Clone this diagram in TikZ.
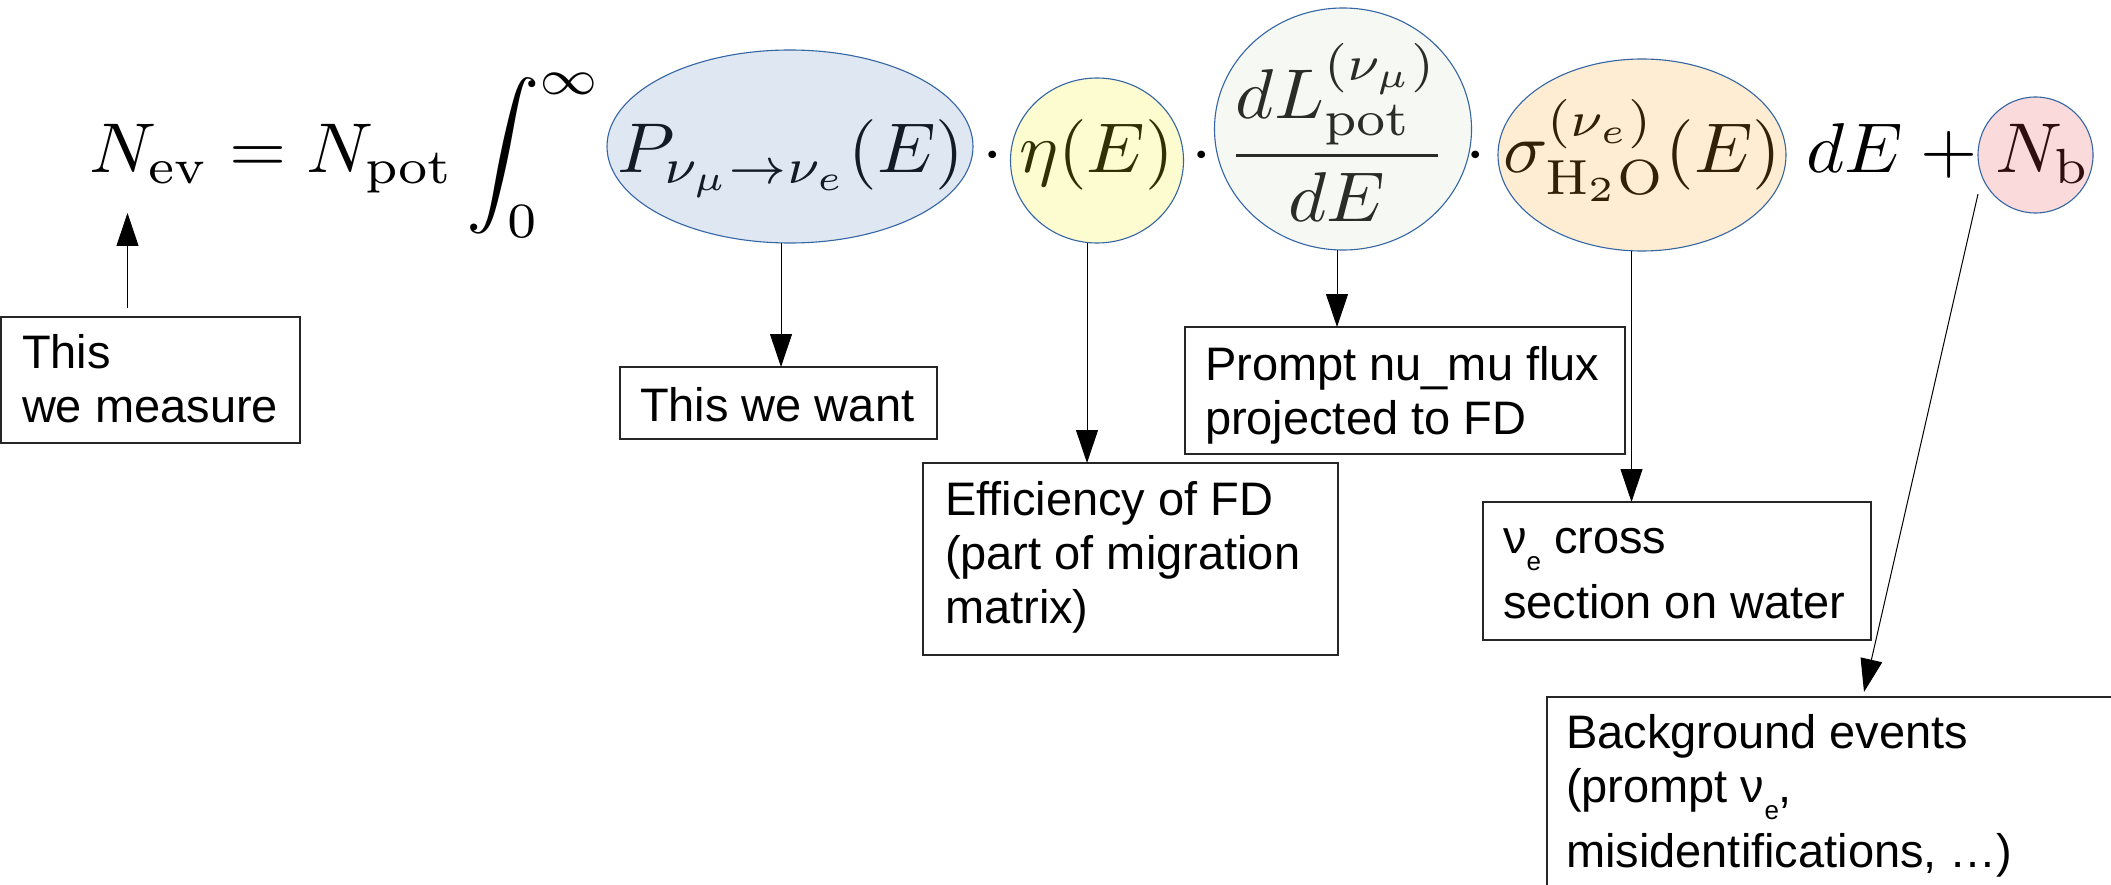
\documentclass[tikz,border=0pt]{standalone}
\usepackage{graphicx}
\usepackage{fontspec}
\newfontfamily\lsans{Liberation Sans}
\usetikzlibrary{shapes.geometric,arrows.meta}
\definecolor{ellborder}{RGB}{52,101,164}
\definecolor{cblue}{RGB}{90,135,190}
\definecolor{cyellow}{RGB}{245,235,20}
\definecolor{cgreen}{RGB}{210,225,195}
\definecolor{corange}{RGB}{250,165,30}
\definecolor{cpink}{RGB}{230,70,70}
\newcommand{\eqbox}[1]{\scalebox{7.35}[7.05]{#1}}
\newcommand{\subE}{\raisebox{-17pt}{\fontsize{26}{26}\selectfont e}}
\begin{document}
\begin{tikzpicture}[x=1pt,y=-1pt,
  eqn/.style={anchor=base west, inner sep=0pt, outer sep=0pt},
  eqc/.style={anchor=base, inner sep=0pt, outer sep=0pt},
  ell/.style={ellipse, draw=ellborder, line width=1.1pt, fill opacity=0.2, inner sep=0pt, outer sep=0pt},
  box/.style={rectangle, draw=black!85, line width=1.2pt, inner sep=0pt, outer sep=0pt, anchor=north west},
  lbl/.style={anchor=base west, inner sep=0pt, outer sep=0pt, font=\lsans\fontsize{47}{54}\selectfont},
  arr/.style={line width=1pt, -{Triangle[length=33pt,width=22pt]}},
]
\useasboundingbox (0,0) rectangle (2111,885);
\clip (0,0) rectangle (2111,885);
\fill[white] (0,0) rectangle (2111,885);

% boxes
\node[box, minimum width=299pt, minimum height=126pt] (meas) at (1,317) {};
\node[box, minimum width=317pt, minimum height=72pt] (want) at (620,367) {};
\node[box, minimum width=415pt, minimum height=192pt] (eff) at (923,463) {};
\node[box, minimum width=440pt, minimum height=127pt] (prompt) at (1185,327) {};
\node[box, minimum width=388pt, minimum height=138pt] (nue) at (1483,502) {};
\node[box, minimum width=700pt, minimum height=300pt] (bg) at (1547,697) {};

% box texts
\node[lbl] (tmeas) at (22,368) {\vtop{\hbox{This}\hbox{we measure}}};
\node[lbl] (twant) at (640,421) {This we want};
\node[lbl] (teff) at (945,515) {\vtop{\hbox{Efficiency of FD}\hbox{(part of migration}\hbox{matrix)}}};
\node[lbl] (tprompt) at (1205,380) {\vtop{\hbox{Prompt nu\_mu flux}\hbox{projected to FD}}};
\node[lbl] (tnue) at (1503,553) {\vtop{\hbox{ν\subE\ cross}\vskip 11pt\hbox{section on water}}};
\node[lbl] (tbg) at (1566,748) {\vtop{\hbox{Background events}\hbox{(prompt ν\subE,}\vskip 11pt\hbox{misidentifications, …)}}};

% equation pieces
\node[eqn] (eqL) at (89,173) {\eqbox{$\displaystyle N_{\mathrm{ev}} = N_{\mathrm{pot}}\int_0^\infty$}};
\node[eqn] (eqP) at (617,173) {\eqbox{$P_{\nu_\mu\to\nu_e}(E)$}};
\node[eqc] (d1) at (993,173) {\eqbox{$\cdot$}};
\node[eqn] (eqEta) at (1019,173) {\eqbox{$\eta(E)$}};
\node[eqc] (d2) at (1202,173) {\eqbox{$\cdot$}};
\node[eqn] (eqF) at (1227,173) {\eqbox{$\displaystyle\frac{dL^{(\nu_\mu)}_{\mathrm{pot}}}{dE}$}};
\node[eqc] (d3) at (1476,173) {\eqbox{$\cdot$}};
\node[eqn] (eqS) at (1503,173) {\eqbox{$\sigma^{(\nu_e)}_{\mathrm{H_2O}}(E)$}};
\node[eqn] (eqD) at (1806,173) {\eqbox{$dE$}};
\node[eqc] (plus) at (1949.5,173) {\eqbox{$+$}};
\node[eqn] (eqN) at (1995,173) {\eqbox{$N_{\mathrm{b}}$}};

% tinted ellipses
\node[ell, fill=cblue, minimum width=366pt, minimum height=193pt] (Pell) at (790,146.5) {};
\node[ell, fill=cyellow, minimum width=173pt, minimum height=165pt] (Eta) at (1097,160.5) {};
\node[ell, fill=cgreen, minimum width=257pt, minimum height=242pt] (dL) at (1343,129) {};
\node[ell, fill=corange, minimum width=288pt, minimum height=192pt] (Sig) at (1642,155) {};
\node[ell, fill=cpink, minimum width=115pt, minimum height=116pt] (Nb) at (2035.5,155) {};

% connectors
\coordinate (mtip) at (127.5,213);
\draw[arr] ([xshift=-23pt,yshift=9pt]meas.north) -- (mtip);
\draw[arr] ([xshift=-9pt]Pell.south) -- ([xshift=-9pt]Pell.south |- want.north);
\draw[arr] ([xshift=-10pt]Eta.south) -- ([xshift=-10pt]Eta.south |- eff.north);
\draw[arr] ([xshift=-6pt]dL.south) -- ([xshift=-6pt]dL.south |- prompt.north);
\draw[arr] ([xshift=-10.5pt]Sig.south) -- ([xshift=-10.5pt]Sig.south |- nue.north);
\draw[arr] ([yshift=-39pt]Nb.west) -- ([xshift=317pt,yshift=5pt]bg.north west);
\end{tikzpicture}
\end{document}
